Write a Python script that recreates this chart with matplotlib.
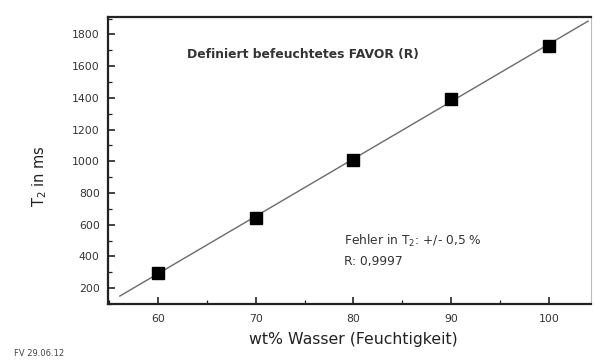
import numpy as np
import matplotlib.pyplot as plt
from matplotlib.ticker import MultipleLocator

plt.rcParams['font.family'] = ['DejaVu Sans']

# data
wasser = [60, 70, 80, 90, 100]
t2 = [295, 645, 1010, 1395, 1730]

# linear fit, drawn over the extended range like in the original
slope, icpt = np.polyfit(wasser, t2, 1)
xfit = np.array([56.1, 104.0])
yfit = slope * xfit + icpt

fig = plt.figure(figsize=(5.94, 3.61), dpi=100)
ax = fig.add_axes([0.182, 0.158, 0.813, 0.795])

ax.plot(xfit, yfit, color='#6a6a6a', lw=1.0, zorder=2)
ax.plot(wasser, t2, 's', color='black', ms=8.5, zorder=3)

ax.set_xlim(54.9, 104.3)
ax.set_ylim(100, 1910)
ax.xaxis.set_major_locator(MultipleLocator(10))
ax.xaxis.set_minor_locator(MultipleLocator(5))
ax.yaxis.set_major_locator(MultipleLocator(200))
ax.yaxis.set_minor_locator(MultipleLocator(100))
ax.tick_params(which='both', direction='in', colors='#222222', labelcolor='#333333')
ax.tick_params(which='major', length=5, width=1.2, labelsize=7.8, pad=6)
ax.tick_params(which='minor', length=3, width=0.9)
ax.tick_params(axis='x', pad=7)

for side in ['left', 'bottom', 'top']:
    ax.spines[side].set_linewidth(1.6)
    ax.spines[side].set_color('#222222')
ax.spines['right'].set_linewidth(0.8)
ax.spines['right'].set_color('#bbbbbb')

ax.set_xlabel('wt% Wasser (Feuchtigkeit)', fontsize=11.3, color='#222222')
ax.xaxis.set_label_coords(0.507, -0.098)
ax.set_ylabel('T$_2$ in ms', fontsize=10.5, color='#222222')
ax.yaxis.set_label_coords(-0.122, 0.445)

ax.text(0.163, 0.858, 'Definiert befeuchtetes FAVOR (R)', transform=ax.transAxes,
        fontsize=8.9, fontweight='bold', color='#333333')
ax.text(0.489, 0.205, 'Fehler in T$_2$: +/- 0,5 %', transform=ax.transAxes,
        fontsize=8.8, color='#333333')
ax.text(0.489, 0.135, 'R: 0,9997', transform=ax.transAxes,
        fontsize=8.8, color='#333333')

fig.text(0.024, 0.015, 'FV 29.06.12', fontsize=6, color='#444444')

fig.savefig('out.png', dpi=100, facecolor='white')
